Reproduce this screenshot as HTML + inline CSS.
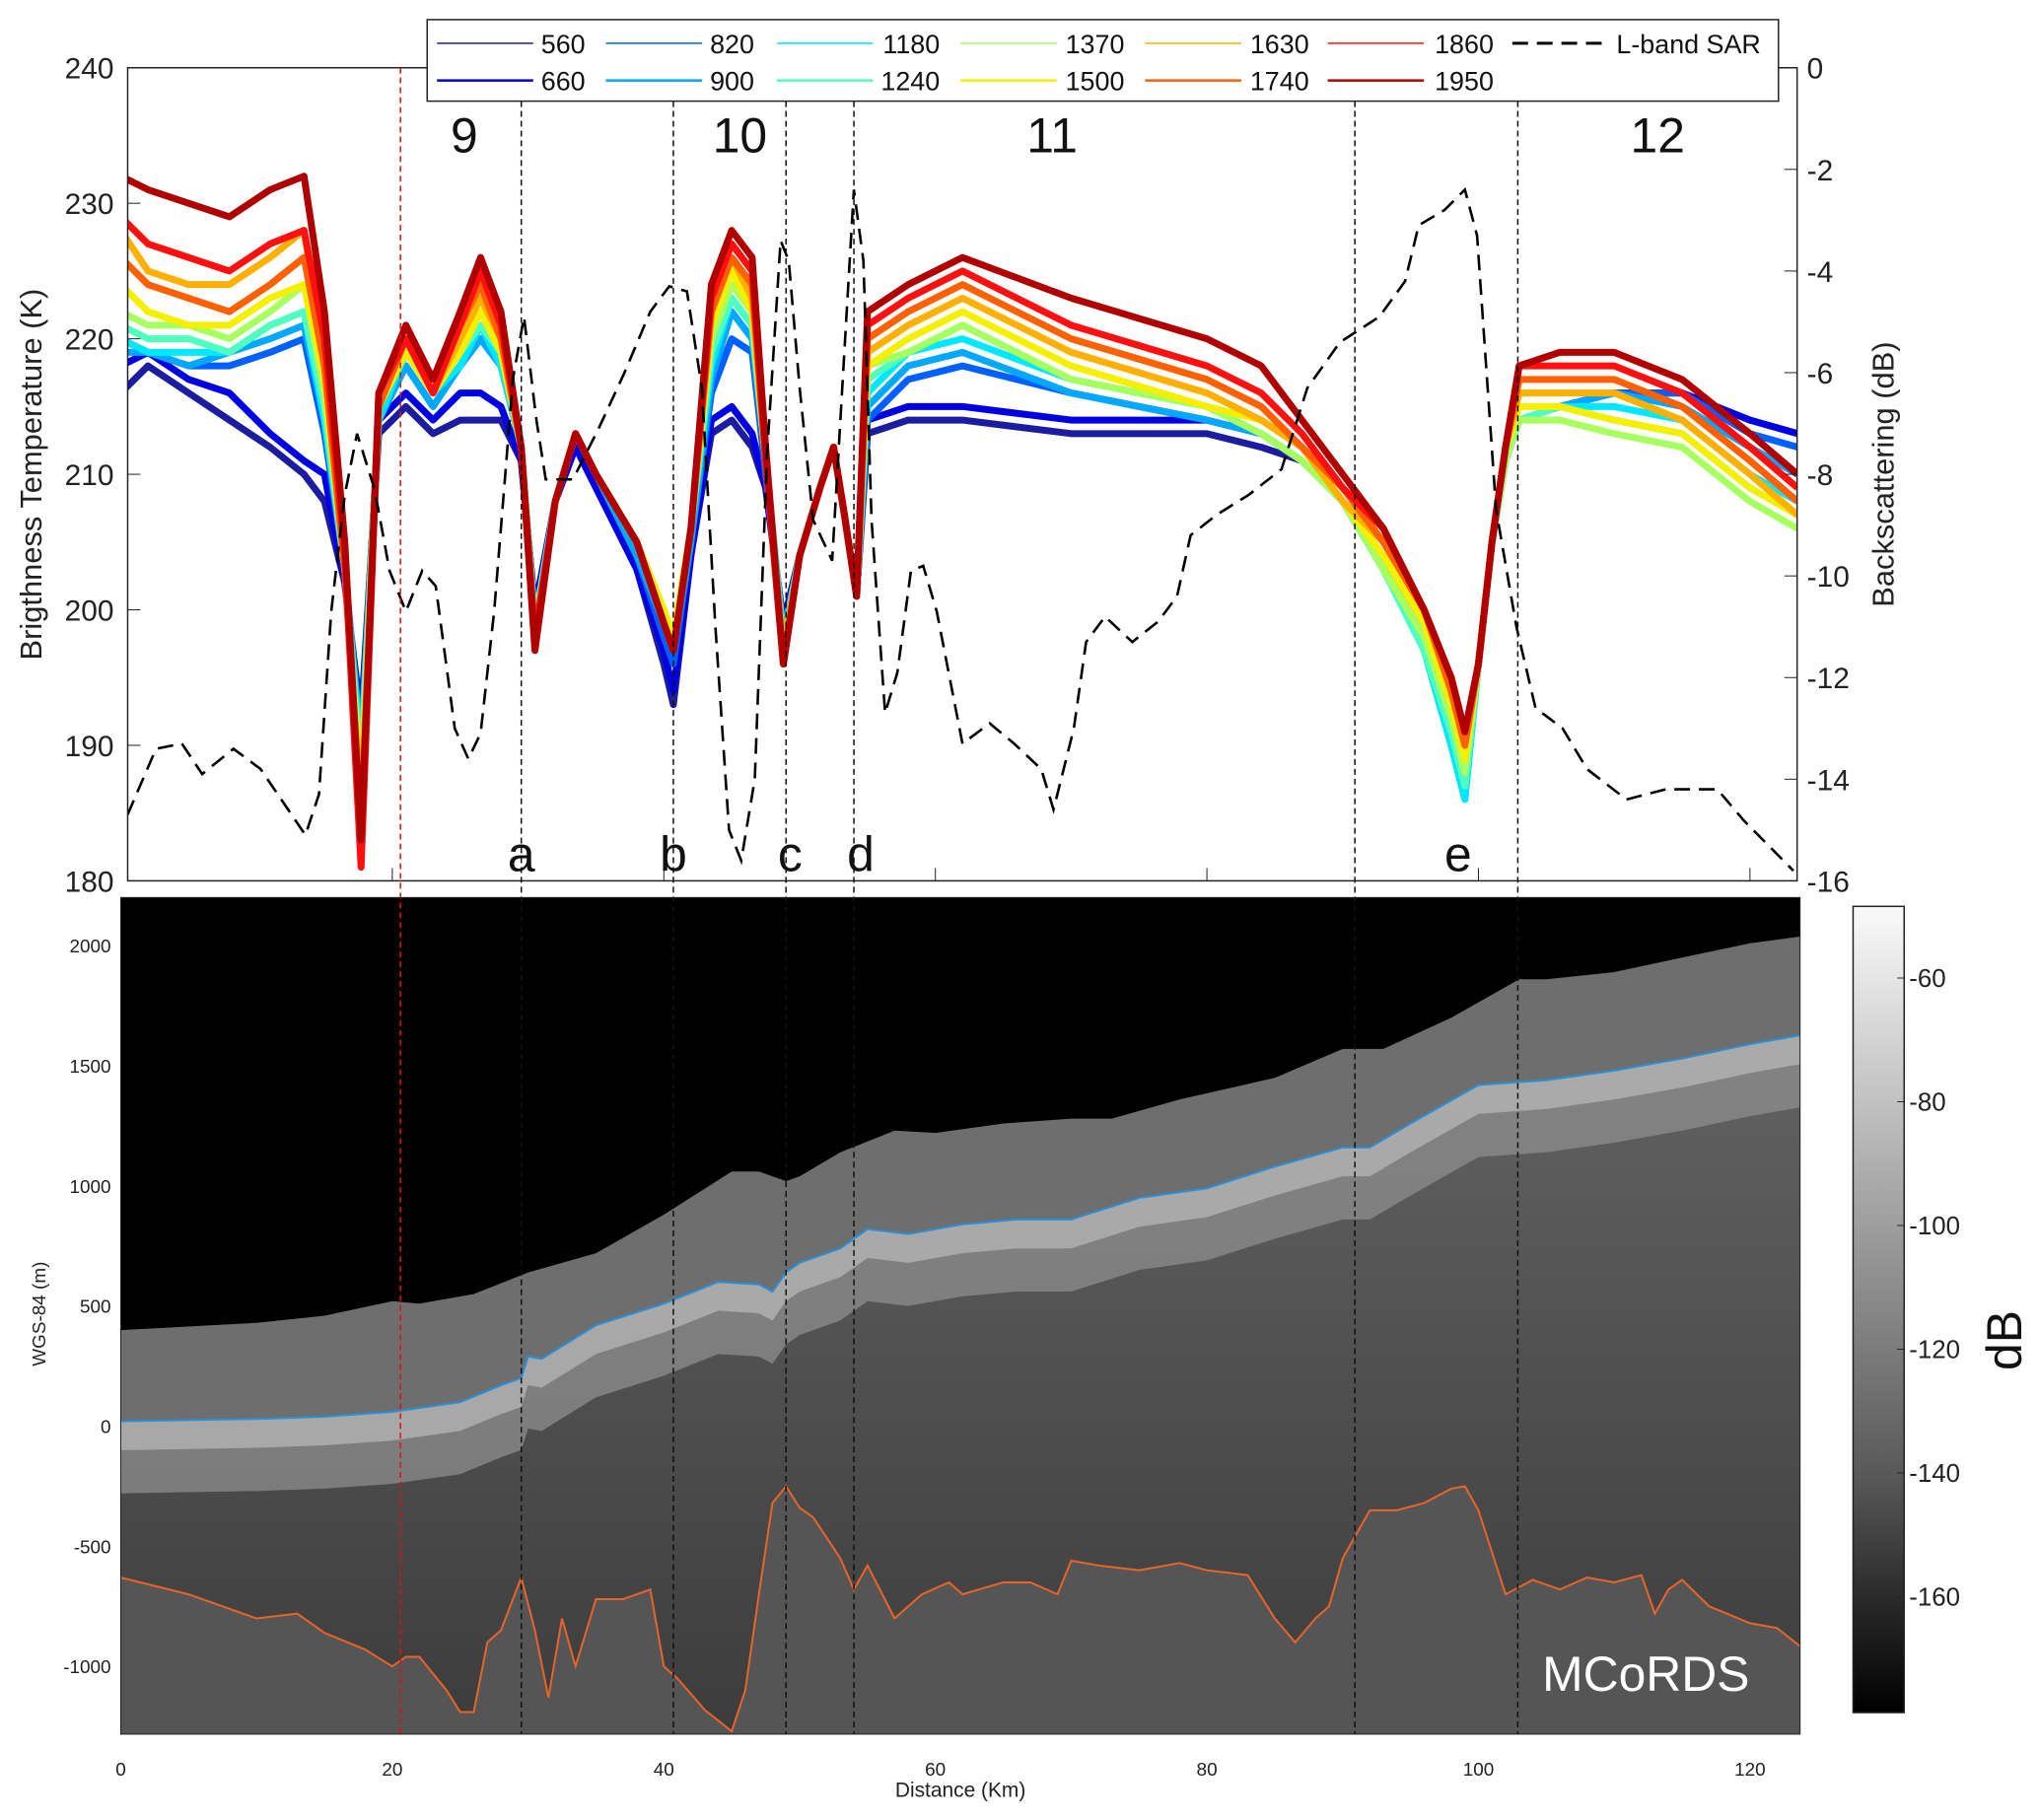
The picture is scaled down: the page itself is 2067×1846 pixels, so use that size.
<!DOCTYPE html>
<html><head><meta charset="utf-8"><style>
html,body{margin:0;padding:0;background:#fff}
svg{display:block;font-family:"Liberation Sans",sans-serif}
</style></head><body>
<svg id="chart" width="2067" height="1846" viewBox="0 0 2067 1846" xmlns="http://www.w3.org/2000/svg">
<defs>
<linearGradient id="cbar" x1="0" y1="0" x2="0" y2="1"><stop offset="0" stop-color="#fafafa"/><stop offset="0.35" stop-color="#a8a8a8"/><stop offset="0.7" stop-color="#5a5a5a"/><stop offset="1" stop-color="#000"/></linearGradient>
<linearGradient id="deep" x1="0" y1="0" x2="0" y2="1"><stop offset="0" stop-color="#6a6a6a"/><stop offset="1" stop-color="#3c3c3c"/></linearGradient>
<clipPath id="topclip"><rect x="130" y="69" width="1700" height="828"/></clipPath>
<clipPath id="botclip"><rect x="123" y="914" width="1710" height="852"/></clipPath>
</defs>
<g id="root" transform="scale(0.996)">
<g id="radar" clip-path="url(#botclip)"></g>
<g id="toppanel"></g>
<g id="overlay"></g>
</g>
</svg>
<script>
const NS="http://www.w3.org/2000/svg";
const kmPts=[0,2,5,8,11,13.5,15,16.5,17.7,19,21,23,25,26.5,28,29.5,30.5,32,33.5,35,38,40,40.7,42,43.5,45,46.5,47.5,48.8,50,51.5,52.5,53.3,54.2,55,58,62,70,80,84,87,90,93,96,98,99,100,101,102,103,106,110,115,120,123.5];
const freqs=["560","660","820","900","1180","1240","1370","1500","1630","1740","1860","1950"];
const tb560=[216,218,216,214,212,210,208,202,192,213,215,213,214,214,214,211,200,208,212,209,203,196,193,204,213,214,212,209,199,204,209,212,207,201,213,214,214,213,213,212,211,208,203,198,192,188,196,205,211,214,215,216,216,214,213];
const tb660=[218,219,217,216,213,211,210,202,191,214,216,214,216,216,215,211,200,208,212,209,203,197,194,204,214,215,213,209,199,204,209,212,207,201,214,215,215,214,214,213,211,208,203,198,192,188,196,205,211,214,215,216,216,214,213];
const tb820=[220,219,218,218,219,220,213,203,190,214,218,215,218,220,218,212,199,208,213,210,204,198,196,205,216,220,219,210,198,204,209,212,207,201,214,217,218,216,214,213,211,208,203,198,191,187,196,205,211,214,215,216,216,213,212];
const tb900=[219,219,218,219,220,221,214,203,190,214,218,215,218,220,218,212,199,208,213,210,204,199,197,205,217,222,220,211,198,204,209,212,207,201,215,218,219,216,214,213,211,208,203,197,190,186,196,205,211,214,215,216,215,212,210];
const tb1180=[220,219,219,219,221,222,214,203,189,214,219,216,218,221,218,212,199,208,213,210,205,200,198,206,218,223,221,211,198,204,209,212,207,201,216,219,220,217,215,213,211,208,203,197,190,186,196,205,211,214,215,215,214,210,208];
const tb1240=[221,220,220,219,221,222,215,203,188,215,219,216,219,221,219,212,199,208,213,210,205,200,198,206,219,223,221,211,197,204,209,212,207,201,217,219,221,217,215,213,211,208,203,197,191,187,196,205,211,214,215,214,213,209,207];
const tb1370=[222,221,221,220,222,224,216,203,187,215,219,216,219,222,219,212,198,208,213,210,205,200,198,206,220,224,222,211,197,204,209,212,207,201,218,219,221,217,215,213,211,208,203,198,192,188,196,205,211,214,214,213,212,208,206];
const tb1500=[224,222,221,221,223,224,217,203,186,215,219,216,219,222,219,212,198,208,213,210,205,200,198,206,221,225,222,211,197,204,209,212,207,201,218,220,222,218,215,214,212,208,204,199,193,189,196,205,212,215,215,214,213,209,207];
const tb1630=[228,225,224,224,226,228,218,203,185,215,220,216,220,223,220,212,198,208,213,210,205,199,197,206,222,226,223,211,197,204,209,212,207,201,219,221,223,219,216,214,212,208,205,200,194,190,196,205,212,216,216,216,214,210,207];
const tb1740=[226,224,223,222,224,226,218,203,184,215,220,216,221,224,220,212,198,208,213,210,205,199,197,206,222,226,224,211,196,204,209,212,207,201,220,222,224,220,217,215,212,209,205,200,194,190,196,205,212,217,217,217,215,211,208];
const tb1860=[229,227,226,225,227,228,220,204,181,216,220,216,221,225,221,212,198,208,213,210,205,199,197,206,223,227,225,211,196,204,209,212,207,201,221,223,225,221,218,216,213,209,206,200,195,191,196,205,212,218,218,218,216,212,209];
const tb1950=[232,231,230,229,231,232,222,205,183,216,221,217,222,226,222,212,197,208,213,210,205,199,197,206,224,228,226,212,196,204,209,212,207,201,222,224,226,223,220,218,214,210,206,200,195,191,196,205,212,218,219,219,217,213,210];
const sarKm=[0.5,2.6,4.5,6,8.3,10.3,13.6,14.6,15.5,16.5,17.4,18.7,19.8,21,22.2,23.2,24.6,25.6,26.5,27.5,28.9,29.7,30.6,31.3,33.3,35.2,37.1,39,40.4,41.7,42.8,43.8,44.8,45.7,46.7,47.6,48.6,49.2,50,51,52.4,53.4,54,54.7,55.3,56.3,57.2,58.2,59.1,60.1,62,64,65.8,67.8,68.7,70.2,71.1,72.5,74.5,76.4,77.8,78.8,80.7,83.1,85.5,87.4,89.8,92.7,94.6,95.6,97.5,99,99.9,101.3,102.8,104.2,106.2,108,110.9,113.8,117.6,119.5,123.2];
const sarDb=[-14.7,-13.4,-13.3,-13.9,-13.4,-13.8,-15.1,-14.3,-10.7,-8.4,-7.2,-8.3,-9.9,-10.7,-9.9,-10.2,-13.0,-13.6,-13.1,-10.7,-6.1,-4.9,-6.9,-8.1,-8.1,-7.1,-6.0,-4.8,-4.3,-4.4,-6.3,-11.0,-15.0,-15.6,-14.0,-7.6,-3.4,-3.8,-6.3,-8.9,-9.7,-5.1,-2.4,-3.8,-8.9,-12.7,-11.9,-9.9,-9.8,-10.7,-13.3,-12.9,-13.3,-13.8,-14.6,-13.0,-11.3,-10.8,-11.3,-10.9,-10.4,-9.2,-8.8,-8.4,-7.9,-6.3,-5.4,-4.9,-4.2,-3.1,-2.8,-2.4,-3.3,-8.7,-11.0,-12.6,-13.0,-13.8,-14.4,-14.2,-14.2,-14.8,-15.8];
const surfKm=[0,10,15,20,22,26,30,35,40,45,47,49,50,53,57,60,65,70,73,78,85,90,93,98,103,105,110,115,120,124];
const surfM=[400,430,460,520,510,550,640,720,880,1060,1060,1020,1040,1140,1230,1220,1260,1280,1280,1360,1450,1570,1570,1700,1860,1860,1890,1950,2010,2040];
const layerKm=[0,10,15,20,25,28,29.5,30,31,35,40,44,47,48,49,50,53,55,58,62,66,70,75,80,85,90,92,95,100,105,110,115,120,124];
const layerM=[20,30,40,60,100,170,200,290,280,420,510,600,590,560,640,680,740,820,800,840,860,860,950,990,1080,1160,1160,1260,1420,1440,1480,1530,1590,1630];
const bedKm=[0,5,10,13,15,18,20,21,22,24,25,26,27,28,29.5,30.5,31.5,32.5,33.5,35,37,39,40,41,43,45,46,47,48,49,50,51,53,54,55,57,59,61,62,65,67,69,70,72,75,78,80,83,85,86.5,88,89,90,92,94,96,98,99,100,102,104,106,108,110,112,113,114,115,117,120,122,124];
const bedM=[-630,-700,-800,-780,-860,-930,-1000,-960,-960,-1100,-1190,-1190,-900,-850,-630,-850,-1130,-800,-1000,-720,-720,-680,-1000,-1050,-1180,-1270,-1100,-700,-320,-250,-340,-380,-550,-680,-580,-800,-700,-650,-700,-650,-650,-700,-560,-580,-600,-570,-600,-620,-800,-900,-800,-750,-550,-350,-350,-320,-260,-250,-350,-700,-640,-680,-630,-650,-620,-780,-680,-640,-750,-820,-840,-930];
const tbTicks=[180,190,200,210,220,230,240];
const dbTicks=[0,-2,-4,-6,-8,-10,-12,-14,-16];
const elevTicks=[2000,1500,1000,500,0,-500,-1000];
const kmTicks=[0,20,40,60,80,100,120];
const cbTicks=[-60,-80,-100,-120,-140,-160];
const markerKm=[29.5,40.7,49,54,90.9,102.9];
const letters=["a","b","c","d","e"];
const letterKm=[29.5,40.7,49.3,54.5,98.5];
const regions=["9","10","11","12"];
const regionKm=[25.3,45.6,68.6,113.2];

const xKm=k=>123+k*13.825;
const yTb=v=>897-(v-180)*(828/60);
const yDb=v=>69-v*(828/16);
const yM=m=>963+(2000-m)*0.24467;
const yCb=v=>996+(-60-v)*6.3;
function el(tag,attrs,parent,txt){const e=document.createElementNS(NS,tag);for(const k in attrs)e.setAttribute(k,attrs[k]);if(txt!==undefined)e.textContent=txt;parent.appendChild(e);return e;}
function pts(xs,ys,fx,fy){return xs.map((x,i)=>fx(x).toFixed(1)+","+fy(ys[i]).toFixed(1)).join(" ");}
const svgRoot=document.getElementById("root");
const topG=document.getElementById("toppanel"),radarG=document.getElementById("radar"),ov=document.getElementById("overlay");

// ---- radar panel ----
let r=el("rect",{x:123,y:914,width:1710,height:852,fill:"url(#deep)"},radarG);


let p=el("polygon",{points:pts(bedKm,bedM,xKm,yM)+" "+xKm(124)+",1766 "+xKm(0)+",1766",fill:"#555"},radarG);


let bandTop=pts(layerKm,layerM,xKm,yM);
let bandBot=layerKm.map((k,i)=>xKm(k).toFixed(1)+","+yM(layerM[i]-300).toFixed(1)).reverse().join(" ");
p=el("polygon",{points:bandTop+" "+bandBot,fill:"#8e8e8e",opacity:"0.75"},radarG);


let bandBot2=layerKm.map((k,i)=>xKm(k).toFixed(1)+","+yM(layerM[i]-120).toFixed(1)).reverse().join(" ");
p=el("polygon",{points:bandTop+" "+bandBot2,fill:"#c4c4c4",opacity:"0.6"},radarG);


let sTop=pts(surfKm,surfM,xKm,yM);
let lRev=layerKm.map((k,i)=>xKm(k).toFixed(1)+","+yM(layerM[i]).toFixed(1)).reverse().join(" ");
p=el("polygon",{points:sTop+" "+lRev,fill:"#6e6e6e"},radarG);


p=el("polygon",{points:xKm(0)+",914 "+sTop+" "+xKm(124)+",914",fill:"#000"},radarG);


p=el("polyline",{points:pts(layerKm,layerM,xKm,yM),fill:"none",stroke:"#2a8fd8","stroke-width":2},radarG);


p=el("polyline",{points:pts(bedKm,bedM,xKm,yM),fill:"none",stroke:"#e8642a","stroke-width":2},radarG);


let t=el("text",{x:1676,y:1722,"font-size":50,fill:"#fff","text-anchor":"middle"},radarG,"MCoRDS");


el("rect",{x:123,y:914,width:1710,height:852,fill:"none",stroke:"#222","stroke-width":1},svgRoot);
elevTicks.forEach(v=>{let tt=el("text",{x:113,y:yM(v)+7,"font-size":19,"text-anchor":"end",fill:"#222"},svgRoot,String(v));

});
kmTicks.forEach(v=>{let tt=el("text",{x:xKm(v),y:1808,"font-size":19,"text-anchor":"middle",fill:"#222"},svgRoot,String(v));

});
t=el("text",{x:978,y:1830,"font-size":21,"text-anchor":"middle",fill:"#222"},svgRoot,"Distance (Km)");


t=el("text",{x:0,y:0,"font-size":19,"text-anchor":"middle",fill:"#222",transform:"translate(46,1338) rotate(-90)"},svgRoot,"WGS-84 (m)");


r=el("rect",{x:1887,y:923,width:52,height:821,fill:"url(#cbar)",stroke:"#222","stroke-width":1.5},svgRoot);


cbTicks.forEach(v=>{el("line",{x1:1932,x2:1939,y1:yCb(v),y2:yCb(v),stroke:"#222"},svgRoot);
let tt=el("text",{x:1944,y:yCb(v)+9,"font-size":26,fill:"#222"},svgRoot,String(v));

});
t=el("text",{x:0,y:0,"font-size":50,"text-anchor":"middle",fill:"#111",transform:"translate(2058,1365) rotate(-90)"},svgRoot,"dB");



// ---- top panel ----
const colors=["#1c1ca0","#0000e0","#0060ff","#00a8ff","#00e8ff","#50ffc0","#a8ff60","#f4f000","#ffb000","#ff6000","#ff1010","#b00000"];
const series=[tb560,tb660,tb820,tb900,tb1180,tb1240,tb1370,tb1500,tb1630,tb1740,tb1860,tb1950];
const gTop=el("g",{"clip-path":"url(#topclip)"},topG);
series.forEach((s,i)=>{const n=Math.min(s.length,kmPts.length);
let pl=el("polyline",{points:pts(kmPts.slice(0,n),s.slice(0,n),xKm,yTb),fill:"none",stroke:colors[i],"stroke-width":7,"stroke-linejoin":"round"},gTop);

});
let sar=el("polyline",{points:pts(sarKm,sarDb,xKm,yDb),fill:"none",stroke:"#000","stroke-width":2.6,"stroke-dasharray":"16,9"},gTop);


el("rect",{x:130,y:69,width:1700,height:828,fill:"none",stroke:"#222","stroke-width":1.5},topG);
tbTicks.forEach(v=>{el("line",{x1:130,x2:143,y1:yTb(v),y2:yTb(v),stroke:"#222"},topG);
let tt=el("text",{x:116,y:yTb(v)+11,"font-size":30,"text-anchor":"end",fill:"#222"},topG,String(v));

});
dbTicks.forEach(v=>{el("line",{x1:1817,x2:1830,y1:yDb(v),y2:yDb(v),stroke:"#222"},topG);
let tt=el("text",{x:1840,y:yDb(v)+11,"font-size":30,fill:"#222"},topG,String(v));

});
kmTicks.forEach(v=>{if(xKm(v)>131)el("line",{x1:xKm(v),x2:xKm(v),y1:897,y2:884,stroke:"#222"},topG);});
t=el("text",{x:0,y:0,"font-size":31,"text-anchor":"middle",fill:"#222",transform:"translate(42,483) rotate(-90)"},topG,"Brigthness Temperature (K)");


t=el("text",{x:0,y:0,"font-size":31,"text-anchor":"middle",fill:"#222",transform:"translate(1928,483) rotate(-90)"},topG,"Backscattering (dB)");


regions.forEach((s,i)=>{let tt=el("text",{x:xKm(regionKm[i]),y:155,"font-size":50,"text-anchor":"middle",fill:"#111"},topG,s);

});
letters.forEach((s,i)=>{let tt=el("text",{x:xKm(letterKm[i]),y:887,"font-size":50,"text-anchor":"middle",fill:"#111"},topG,s);

});

markerKm.forEach(k=>{let ln=el("line",{x1:xKm(k),x2:xKm(k),y1:103,y2:1766,stroke:"#111","stroke-width":1.5,"stroke-dasharray":"6,4"},ov);

});
let red=el("line",{x1:xKm(20.6),x2:xKm(20.6),y1:69,y2:1766,stroke:"#e01010","stroke-width":1.5,"stroke-dasharray":"6,4"},ov);



const lg=el("g",{},ov);


el("rect",{x:435,y:20,width:1376,height:83,fill:"#fff",stroke:"#222","stroke-width":1.5},lg);
const colX=[445,617,791,978,1166,1352];
const labEnd=[596,768,957,1145,1333,1521];
freqs.forEach((f,i)=>{const c=Math.floor(i/2),row=i%2,y=row?82:44;
el("line",{x1:colX[c],x2:colX[c]+98,y1:y,y2:y,stroke:colors[i],"stroke-width":row?2.5:1.5},lg);
let tt=el("text",{x:labEnd[c],y:y+10,"font-size":27,"text-anchor":"end",fill:"#111"},lg,f);

});
el("line",{x1:1540,x2:1638,y1:44,y2:44,stroke:"#000","stroke-width":3,"stroke-dasharray":"16,9"},lg);
t=el("text",{x:1646,y:54,"font-size":27,fill:"#111"},lg,"L-band SAR");


</script>
</body></html>
